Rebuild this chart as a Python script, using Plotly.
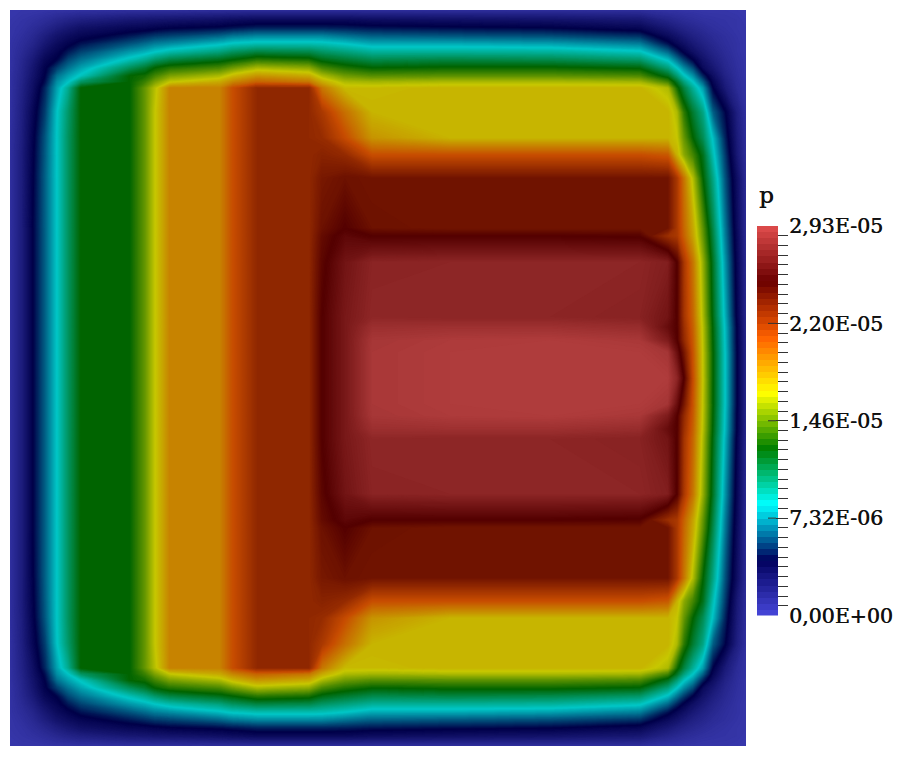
import plotly.graph_objects as go

# Pressure field p, in units of 1E-05.
# Grid nodes are not uniform, they follow the blocks of the field.
x_nodes = [0, 12, 23, 35, 47, 58, 71, 120, 135, 145, 160, 210, 223, 247, 299,
           312, 335, 362, 440, 540, 630, 658, 667, 674, 683, 693, 703, 715, 727, 736]
y_nodes_top = [0, 10, 18, 26, 34, 42, 50, 58, 66, 72, 78, 102, 128, 145, 168,
               218, 226, 252, 307, 317, 330, 342, 368]

# Upper half of the field, the lower half is its mirror image
p_top = [
    [.00, .01, .01, .02, .03, .03, .04, .05, .05, .05, .05, .06, .06, .06, .06, .06, .06, .06, .06, .06, .06, .03, .03, .02, .02, .01, .01, .01, .00, .00],
    [.01, .03, .05, .08, .12, .15, .18, .24, .25, .26, .27, .30, .32, .34, .34, .34, .34, .32, .30, .28, .24, .14, .11, .09, .07, .05, .04, .03, .02, .00],
    [.02, .04, .08, .13, .19, .24, .29, .36, .37, .39, .41, .44, .46, .49, .49, .49, .48, .46, .44, .42, .36, .23, .18, .15, .12, .09, .06, .04, .02, .01],
    [.02, .06, .11, .19, .27, .32, .37, .47, .51, .54, .56, .63, .67, .70, .70, .70, .66, .62, .60, .58, .52, .33, .27, .22, .17, .13, .09, .06, .03, .01],
    [.03, .08, .14, .24, .33, .39, .46, .60, .65, .69, .72, .82, .86, .89, .89, .88, .84, .78, .78, .76, .69, .46, .36, .30, .23, .17, .12, .07, .04, .01],
    [.03, .10, .18, .30, .38, .47, .56, .74, .79, .84, .90, 1.00, 1.06, 1.12, 1.10, 1.05, 1.00, .94, .94, .93, .86, .64, .50, .40, .30, .22, .15, .09, .04, .01],
    [.03, .12, .22, .36, .43, .57, .66, .88, .96, 1.04, 1.12, 1.21, 1.26, 1.35, 1.31, 1.22, 1.16, 1.10, 1.12, 1.10, 1.04, .82, .67, .55, .42, .28, .19, .11, .05, .02],
    [.03, .13, .25, .40, .55, .66, .76, 1.07, 1.16, 1.26, 1.33, 1.41, 1.49, 1.61, 1.55, 1.41, 1.32, 1.26, 1.28, 1.28, 1.24, 1.00, .84, .71, .58, .34, .24, .13, .06, .02],
    [.04, .14, .27, .42, .66, .76, .86, 1.26, 1.30, 1.40, 1.52, 1.62, 1.73, 1.85, 1.78, 1.62, 1.49, 1.44, 1.45, 1.45, 1.42, 1.20, 1.02, .86, .73, .50, .31, .16, .07, .02],
    [.04, .15, .29, .45, .72, .83, 1.05, 1.26, 1.38, 1.52, 1.67, 1.78, 1.90, 2.02, 1.95, 1.78, 1.62, 1.60, 1.62, 1.62, 1.60, 1.40, 1.18, 1.00, .84, .63, .37, .19, .08, .03],
    [.04, .16, .30, .50, .76, .95, 1.26, 1.26, 1.47, 1.64, 1.91, 1.91, 2.09, 2.29, 2.29, 1.95, 1.72, 1.72, 1.74, 1.74, 1.74, 1.62, 1.30, 1.12, .94, .75, .42, .22, .09, .03],
    [.04, .18, .36, .55, .83, 1.03, 1.26, 1.26, 1.47, 1.67, 1.91, 1.91, 2.09, 2.29, 2.29, 2.20, 1.97, 1.74, 1.74, 1.74, 1.74, 1.74, 1.62, 1.35, 1.15, .98, .62, .43, .18, .05],
    [.05, .19, .39, .60, .84, 1.05, 1.26, 1.26, 1.47, 1.67, 1.91, 1.91, 2.09, 2.29, 2.29, 2.27, 2.10, 1.85, 1.74, 1.74, 1.74, 1.74, 1.68, 1.47, 1.26, 1.08, .82, .50, .21, .06],
    [.05, .20, .40, .61, .84, 1.05, 1.26, 1.26, 1.47, 1.67, 1.91, 1.91, 2.09, 2.29, 2.29, 2.32, 2.28, 2.09, 2.09, 2.09, 2.09, 2.05, 1.75, 1.55, 1.40, 1.20, .88, .55, .23, .07],
    [.05, .20, .41, .62, .84, 1.05, 1.26, 1.26, 1.47, 1.67, 1.91, 1.91, 2.09, 2.29, 2.29, 2.38, 2.42, 2.40, 2.40, 2.40, 2.40, 2.40, 2.20, 1.95, 1.63, 1.26, .98, .60, .30, .08],
    [.05, .20, .42, .62, .84, 1.05, 1.26, 1.26, 1.47, 1.67, 1.91, 1.91, 2.09, 2.29, 2.29, 2.42, 2.51, 2.42, 2.40, 2.40, 2.40, 2.40, 2.20, 2.00, 1.78, 1.45, 1.10, .68, .33, .09],
    [.05, .20, .42, .62, .84, 1.05, 1.26, 1.26, 1.47, 1.67, 1.91, 1.91, 2.09, 2.29, 2.29, 2.45, 2.56, 2.51, 2.51, 2.51, 2.50, 2.25, 2.20, 2.02, 1.80, 1.47, 1.12, .69, .34, .09],
    [.05, .20, .42, .62, .84, 1.05, 1.26, 1.26, 1.47, 1.67, 1.91, 1.91, 2.09, 2.29, 2.29, 2.48, 2.65, 2.76, 2.77, 2.77, 2.77, 2.72, 2.51, 2.20, 1.95, 1.57, 1.18, .74, .36, .10],
    [.05, .20, .42, .62, .84, 1.05, 1.26, 1.26, 1.47, 1.67, 1.91, 1.91, 2.09, 2.29, 2.29, 2.51, 2.68, 2.78, 2.77, 2.77, 2.75, 2.65, 2.51, 2.22, 2.00, 1.62, 1.22, .80, .39, .11],
    [.05, .20, .42, .62, .84, 1.05, 1.26, 1.26, 1.47, 1.67, 1.91, 1.91, 2.09, 2.29, 2.29, 2.51, 2.68, 2.84, 2.85, 2.85, 2.82, 2.60, 2.51, 2.25, 2.02, 1.64, 1.24, .82, .41, .11],
    [.05, .20, .42, .62, .84, 1.05, 1.26, 1.26, 1.47, 1.67, 1.91, 1.91, 2.09, 2.29, 2.29, 2.51, 2.68, 2.89, 2.92, 2.93, 2.90, 2.70, 2.52, 2.28, 2.04, 1.65, 1.25, .83, .41, .12],
    [.05, .20, .42, .62, .84, 1.05, 1.26, 1.26, 1.47, 1.67, 1.91, 1.91, 2.09, 2.29, 2.29, 2.51, 2.68, 2.90, 2.93, 2.93, 2.93, 2.88, 2.62, 2.38, 2.06, 1.66, 1.26, .84, .42, .12],
    [.05, .20, .42, .62, .84, 1.05, 1.26, 1.26, 1.47, 1.67, 1.91, 1.91, 2.09, 2.29, 2.29, 2.51, 2.68, 2.90, 2.93, 2.93, 2.93, 2.93, 2.78, 2.51, 2.09, 1.67, 1.26, .84, .42, .12],
]

p_max = 2.93
legend_bands = 64
tick_vals = [0, 0.7325, 1.465, 2.1975, 2.93]
tick_text = ['0,00E+00', '7,32E-06', '1,46E-05', '2,20E-05', '2,93E-05']
minor_per_major = 10

# Rainbow desaturated colors, the field is drawn a bit darker than the bar
rainbow = [(71, 71, 219), (0, 0, 92), (0, 255, 255), (0, 128, 0),
           (255, 255, 0), (255, 97, 0), (107, 0, 0), (224, 77, 77)]
field_shade = 0.78

W, H = 906, 757


def make_scale(shade):
    scale = []
    for i, (r, g, b) in enumerate(rainbow):
        scale.append([i / (len(rainbow) - 1), f'rgb({r * shade:.0f},{g * shade:.0f},{b * shade:.0f})'])
    return scale


y_nodes = y_nodes_top + [736 - y for y in y_nodes_top[-2::-1]]
p_field = p_top + p_top[-2::-1]

fig = go.Figure()

# filled contour with very fine levels, it keeps the uneven nodes where they are
fig.add_trace(go.Contour(
    x=x_nodes, y=y_nodes, z=p_field,
    zmin=0, zmax=p_max,
    colorscale=make_scale(field_shade),
    contours=dict(coloring='fill', start=0, end=p_max, size=0.01, showlines=False),
    line=dict(width=0, smoothing=0),
    showscale=False, hoverinfo='skip',
    xaxis='x', yaxis='y',
))

# Color legend as a small banded heatmap with its own axis
band_edges = [p_max * i / legend_bands for i in range(legend_bands + 1)]
band_mids = [[(band_edges[i] + band_edges[i + 1]) / 2] for i in range(legend_bands)]
fig.add_trace(go.Heatmap(
    x=[0, 21], y=band_edges, z=band_mids,
    zmin=0, zmax=p_max,
    colorscale=make_scale(1),
    showscale=False, hoverinfo='skip',
    xaxis='x2', yaxis='y2',
))

minor_vals = [p_max * i / (4 * minor_per_major) for i in range(4 * minor_per_major + 1)]
thick = '0.5px 0 0 #111111'

fig.update_layout(
    template='none',
    width=W, height=H,
    margin=dict(l=0, r=0, t=0, b=0),
    paper_bgcolor='white', plot_bgcolor='white',
    showlegend=False,
    xaxis=dict(domain=[10 / W, 746 / W], range=[0, 736], visible=False, anchor='y', automargin=False),
    yaxis=dict(domain=[1 - 746 / H, 1 - 10 / H], range=[736, 0], visible=False, anchor='x', automargin=False),
    xaxis2=dict(domain=[757 / W, 788 / W], range=[0, 31], visible=False, anchor='y2', automargin=False),
    yaxis2=dict(
        domain=[1 - 615.5 / H, 1 - 226 / H], range=[0, p_max], anchor='x2', side='right',
        automargin=False, showgrid=False, zeroline=False, showline=False,
        tickmode='array', tickvals=tick_vals, ticktext=tick_text,
        ticks='inside', ticklen=12, tickwidth=1, tickcolor='#333333',
        minor=dict(tickmode='array', tickvals=minor_vals, ticks='inside', ticklen=10,
                   tickwidth=1, tickcolor='#333333', showgrid=False),
        tickfont=dict(family='DejaVu Serif', size=20.5, color='#111111', shadow=thick),
    ),
    annotations=[dict(
        text='p', xref='paper', yref='paper',
        x=766 / W, y=1 - 195 / H, xanchor='center', yanchor='middle', showarrow=False,
        font=dict(family='DejaVu Serif', size=23, color='#111111', shadow=thick),
    )],
    # the labelled ticks inside the bar run further to the left
    shapes=[dict(type='line', xref='x2', yref='y2', x0=11, x1=19, y0=v, y1=v,
                 line=dict(color='#333333', width=1)) for v in tick_vals[1:-1]],
)

fig.write_html('out.html', config=dict(displayModeBar=False),
               post_script="document.body.style.margin='0';")
